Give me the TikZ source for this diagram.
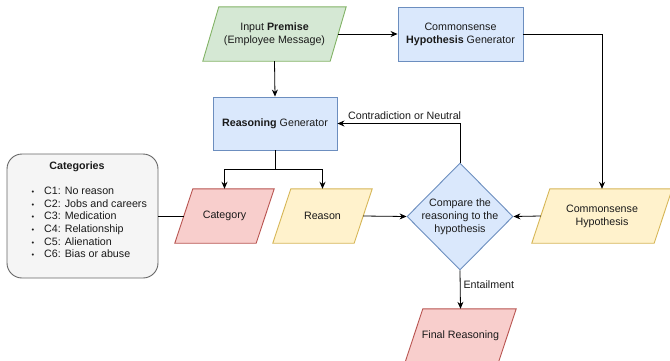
\documentclass[tikz,border=0pt]{standalone}
\usepackage{fontspec}
\setmainfont{Liberation Sans}
\usetikzlibrary{shapes.geometric,arrows.meta,calc}
\pgfdeclarelayer{bg}
\pgfsetlayers{bg,main}
\definecolor{gfill}{HTML}{D5E8D4}\definecolor{gline}{HTML}{82B366}
\definecolor{bfill}{HTML}{DAE8FC}\definecolor{bline}{HTML}{6C8EBF}
\definecolor{rfill}{HTML}{F8CECC}\definecolor{rline}{HTML}{B85450}
\definecolor{yfill}{HTML}{FFF2CC}\definecolor{yline}{HTML}{D6B656}
\definecolor{kfill}{HTML}{F5F5F5}\definecolor{kline}{HTML}{666666}
\definecolor{txt}{HTML}{1A1A1A}
\newcommand{\drawpara}[4]{\filldraw[fill=#2,draw=#3,line width=0.9pt] (#1.south west) -- ([xshift=#4]#1.north west) -- (#1.north east) -- ([xshift=-#4]#1.south east) -- cycle;}
\newcommand{\bul}{\makebox[12.5pt][l]{\fontsize{7.5}{8}\selectfont\textbullet}}
\begin{document}
\begin{tikzpicture}[x=1pt,y=-1pt,
  font=\fontsize{10.7}{12.8}\selectfont, text=txt,
  box/.style={draw=bline,fill=bfill,line width=0.9pt,inner sep=0pt,align=center,minimum height=54pt},
  para/.style={inner sep=0pt,align=center,minimum height=54pt},
  arr/.style={line width=0.8pt,-{Stealth[length=7pt,width=6pt]}},
  ln/.style={line width=0.8pt},
  lbl/.style={inner sep=1pt,font=\fontsize{10.7}{12.8}\selectfont}]
\useasboundingbox (0,0) rectangle (670,360);

% nodes
\node[para,minimum width=143pt] (prem) at (274.5,34) {Input \textbf{Premise}\\(Employee Message)};
\node[box,minimum width=125pt] (hgen) at (460.5,34) {Commonsense\\\textbf{Hypothesis} Generator};
\node[box,minimum width=124pt,minimum height=53pt] (rgen) at (275,123.5) {\textbf{Reasoning} Generator};
\node[para,minimum width=99pt] (cat) at (224.5,216) {Category};
\node[para,minimum width=99pt] (reas) at (322.5,216) {Reason};
\node[draw=bline,fill=bfill,line width=0.9pt,diamond,aspect=1,inner sep=0pt,minimum width=106pt,minimum height=107pt] (dia) at (460,216.5) {};
\node[align=center,inner sep=0pt] (diat) at (dia.center) {Compare the\\reasoning to the\\hypothesis};
\node[para,minimum width=140pt] (chyp) at (602,216) {Commonsense\\Hypothesis};
\node[para,minimum width=111pt] (fin) at (460.5,336) {Final Reasoning};
\node[draw=kline,fill=kfill,line width=0.9pt,rounded corners=15pt,minimum width=151pt,minimum height=124pt,inner sep=0pt] (cbox) at (82.5,216) {};
\node[font=\fontsize{10.7}{12.8}\selectfont\bfseries,inner sep=0pt] (ctitle) at (77,167) {Categories};
\node[align=left,inner sep=0pt,anchor=west,font=\fontsize{10.7}{12.6}\selectfont] (clist) at (31.5,222.5) {%
\bul C1: No reason\\
\bul C2: Jobs and careers\\
\bul C3: Medication\\
\bul C4: Relationship\\
\bul C5: Alienation\\
\bul C6: Bias or abuse};

\begin{pgfonlayer}{bg}
\drawpara{prem}{gfill}{gline}{16pt}
\drawpara{cat}{rfill}{rline}{18pt}
\drawpara{reas}{yfill}{yline}{18pt}
\drawpara{chyp}{yfill}{yline}{18pt}
\drawpara{fin}{rfill}{rline}{18pt}
\end{pgfonlayer}

\coordinate (split) at (275,169);
% connectors
\draw[arr] ([xshift=-8pt]prem.east) -- (hgen.west);
\draw[arr] (prem.south) -- (rgen.north);
\draw[arr] (hgen.east) -| (chyp.north);
\draw[ln] (rgen.south) -- (split);
\draw[arr] (split) -| (cat.north);
\draw[arr] (split) -| (reas.north);
\draw[arr] ([xshift=-9pt]reas.east) -- (dia.west);
\draw[arr] ([xshift=9pt]chyp.west) -- (dia.east);
\draw[arr] (dia.north) |- (rgen.east) node[lbl,pos=0.726,above=3pt] (lcon) {Contradiction or Neutral};
\draw[arr] (dia.south) -- (fin.north) node[lbl,pos=0.38,right=2pt] (lent) {Entailment};
\draw[ln] (cbox.east) -- ([xshift=9pt]cat.west);
\end{tikzpicture}
\end{document}
